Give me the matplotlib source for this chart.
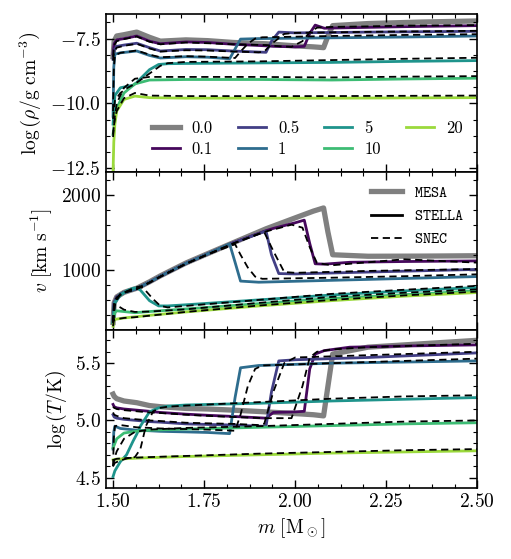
import numpy as np
import matplotlib
matplotlib.use('Agg')
import matplotlib.pyplot as plt
from matplotlib.lines import Line2D
from matplotlib.ticker import MultipleLocator

plt.rcParams.update({
    'font.family': 'serif',
    'font.serif': ['cmr10'],
    'mathtext.fontset': 'cm',
    'axes.formatter.use_mathtext': True,
    'axes.linewidth': 1.2,
    'font.size': 14,
})

labels = ['0.1', '0.5', '1', '5', '10', '20']

# MESA profile (t = 0.0)
x_mesa = [1.500, 1.503, 1.51, 1.53, 1.565, 1.6, 1.63, 1.70, 1.76, 1.83, 1.92, 2.00, 2.05, 2.078, 2.09, 2.103, 2.2, 2.35, 2.5]
rho_mesa = [-8.2, -7.6, -7.4, -7.35, -7.25, -7.45, -7.6, -7.55, -7.58, -7.65, -7.7, -7.78, -7.82, -7.85, -7.4, -7.0, -6.92, -6.86, -6.82]
v_mesa = [300, 560, 640, 700, 755, 840, 920, 1090, 1215, 1360, 1545, 1690, 1780, 1822, 1500, 1200, 1180, 1182, 1187]
T_mesa = [5.23, 5.21, 5.19, 5.17, 5.155, 5.13, 5.12, 5.105, 5.1, 5.09, 5.075, 5.06, 5.05, 5.04, 5.3, 5.58, 5.64, 5.67, 5.70]

# STELLA
x_s01 = [1.500, 1.503, 1.51, 1.53, 1.565, 1.6, 1.63, 1.70, 1.76, 1.83, 1.92, 1.94, 2.00, 2.025, 2.04, 2.055, 2.08, 2.15, 2.3, 2.5]
rho_s01 = [-8.1, -7.7, -7.55, -7.5, -7.4, -7.6, -7.7, -7.63, -7.65, -7.72, -7.78, -7.8, -7.82, -7.8, -7.3, -6.98, -7.1, -7.08, -7.04, -7.0]
v_s01 = [300, 560, 640, 700, 750, 835, 915, 1085, 1212, 1360, 1520, 1550, 1625, 1660, 1350, 1080, 1075, 1100, 1110, 1118]
T_s01 = [5.14, 5.12, 5.11, 5.10, 5.09, 5.08, 5.07, 5.055, 5.045, 5.035, 5.02, 5.07, 5.075, 5.08, 5.45, 5.58, 5.61, 5.64, 5.65, 5.66]

x_s05 = [1.500, 1.503, 1.51, 1.53, 1.565, 1.6, 1.63, 1.70, 1.76, 1.83, 1.90, 1.92, 1.935, 1.955, 2.0, 2.2, 2.5]
rho_s05 = [-8.3, -7.95, -7.8, -7.75, -7.68, -7.85, -7.98, -7.92, -7.93, -7.98, -8.02, -8.03, -7.6, -7.25, -7.28, -7.25, -7.22]
v_s05 = [300, 560, 640, 700, 750, 835, 915, 1085, 1212, 1360, 1480, 1515, 1200, 950, 945, 970, 1005]
T_s05 = [5.05, 5.03, 5.02, 5.01, 5.0, 4.99, 4.985, 4.97, 4.965, 4.96, 4.95, 4.95, 5.25, 5.52, 5.53, 5.55, 5.59]

x_s1 = [1.500, 1.502, 1.505, 1.52, 1.565, 1.6, 1.63, 1.70, 1.76, 1.82, 1.835, 1.85, 1.9, 2.1, 2.3, 2.5]
rho_s1 = [-10.5, -8.6, -8.1, -8.05, -7.98, -8.15, -8.25, -8.2, -8.22, -8.28, -7.9, -7.52, -7.5, -7.47, -7.44, -7.4]
v_s1 = [300, 500, 580, 680, 750, 835, 915, 1085, 1212, 1345, 1100, 850, 835, 860, 885, 910]
T_s1 = [4.75, 4.9, 4.95, 4.93, 4.915, 4.91, 4.905, 4.9, 4.895, 4.885, 5.2, 5.46, 5.48, 5.5, 5.51, 5.52]

x_s5 = [1.500, 1.505, 1.52, 1.537, 1.555, 1.565, 1.575, 1.60, 1.625, 1.65, 1.7, 1.9, 2.1, 2.3, 2.5]
rho_s5 = [-10.8, -9.7, -9.4, -9.35, -9.3, -9.2, -9.05, -8.7, -8.5, -8.47, -8.46, -8.44, -8.42, -8.38, -8.35]
v_s5 = [300, 560, 660, 720, 755, 760, 730, 590, 520, 520, 535, 600, 665, 720, 765]
T_s5 = [4.51, 4.56, 4.64, 4.70, 4.82, 4.88, 4.95, 5.075, 5.11, 5.125, 5.135, 5.15, 5.17, 5.185, 5.2]

x_s10 = [1.500, 1.505, 1.51, 1.53, 1.56, 1.6, 1.7, 1.9, 2.1, 2.3, 2.5]
rho_s10 = [-11.2, -10.6, -10.2, -9.6, -9.25, -9.1, -9.08, -9.08, -9.1, -9.06, -9.03]
v_s10 = [300, 430, 455, 445, 430, 445, 480, 550, 620, 670, 720]
T_s10 = [4.76, 4.80, 4.84, 4.89, 4.905, 4.915, 4.925, 4.94, 4.955, 4.97, 4.98]

x_s20 = [1.500, 1.502, 1.505, 1.51, 1.53, 1.56, 1.6, 1.7, 1.9, 2.1, 2.3, 2.5]
rho_s20 = [-12.65, -11.5, -10.8, -10.3, -9.85, -9.72, -9.78, -9.8, -9.8, -9.8, -9.79, -9.78]
v_s20 = [250, 320, 340, 345, 360, 375, 395, 440, 520, 590, 650, 698]
T_s20 = [4.656, 4.658, 4.66, 4.662, 4.665, 4.67, 4.675, 4.685, 4.70, 4.715, 4.725, 4.735]

# SNEC
x_n01 = [1.500, 1.503, 1.51, 1.53, 1.565, 1.6, 1.63, 1.70, 1.76, 1.83, 1.92, 1.96, 1.99, 2.02, 2.04, 2.06, 2.1, 2.2, 2.3, 2.5]
rho_n01 = [-8.2, -7.75, -7.6, -7.52, -7.42, -7.62, -7.72, -7.65, -7.68, -7.72, -7.75, -7.8, -7.82, -7.6, -7.25, -7.08, -7.05, -7.03, -7.0, -6.98]
v_n01 = [300, 550, 630, 700, 745, 830, 910, 1080, 1205, 1350, 1510, 1560, 1600, 1560, 1300, 1090, 1060, 1100, 1140, 1095]
T_n01 = [5.12, 5.11, 5.10, 5.09, 5.08, 5.07, 5.065, 5.05, 5.04, 5.03, 5.02, 5.02, 5.02, 5.3, 5.55, 5.6, 5.62, 5.64, 5.65, 5.67]

x_n05 = [1.500, 1.503, 1.51, 1.53, 1.565, 1.6, 1.63, 1.70, 1.76, 1.83, 1.90, 1.915, 1.94, 1.97, 2.0, 2.2, 2.5]
rho_n05 = [-8.35, -8.0, -7.85, -7.78, -7.7, -7.88, -8.0, -7.95, -7.96, -8.0, -8.03, -8.0, -7.65, -7.32, -7.28, -7.24, -7.2]
v_n05 = [300, 550, 630, 700, 745, 830, 910, 1080, 1205, 1350, 1480, 1500, 1250, 970, 960, 985, 1010]
T_n05 = [5.07, 5.05, 5.04, 5.02, 5.01, 5.0, 4.995, 4.98, 4.975, 4.97, 4.96, 4.97, 5.25, 5.5, 5.55, 5.57, 5.6]

x_n1 = [1.500, 1.502, 1.505, 1.52, 1.565, 1.6, 1.63, 1.70, 1.76, 1.835, 1.85, 1.87, 1.89, 1.91, 2.1, 2.3, 2.5]
rho_n1 = [-10.3, -8.7, -8.15, -8.05, -7.96, -8.12, -8.22, -8.18, -8.2, -8.25, -8.0, -7.7, -7.5, -7.45, -7.4, -7.36, -7.33]
v_n1 = [300, 520, 580, 680, 745, 830, 910, 1080, 1205, 1340, 1200, 1030, 910, 880, 895, 915, 940]
T_n1 = [4.6, 4.85, 4.95, 4.96, 4.94, 4.935, 4.93, 4.925, 4.92, 4.91, 5.05, 5.3, 5.45, 5.48, 5.5, 5.52, 5.54]

x_n5 = [1.500, 1.505, 1.52, 1.54, 1.56, 1.575, 1.59, 1.61, 1.63, 1.65, 1.7, 1.9, 2.1, 2.3, 2.5]
rho_n5 = [-10.6, -9.9, -9.6, -9.4, -9.25, -9.1, -8.95, -8.75, -8.55, -8.45, -8.4, -8.38, -8.33, -8.28, -8.24]
v_n5 = [300, 560, 670, 720, 765, 780, 720, 610, 520, 500, 520, 600, 680, 735, 787]
T_n5 = [4.6, 4.63, 4.65, 4.67, 4.68, 4.75, 4.95, 5.08, 5.11, 5.12, 5.13, 5.16, 5.19, 5.21, 5.22]

x_n10 = [1.500, 1.505, 1.51, 1.53, 1.56, 1.6, 1.7, 1.9, 2.1, 2.3, 2.5]
rho_n10 = [-11.2, -10.5, -10.0, -9.4, -9.05, -8.98, -8.98, -8.98, -9.0, -8.97, -8.95]
v_n10 = [300, 540, 530, 470, 440, 445, 475, 560, 640, 695, 740]
T_n10 = [4.6, 4.68, 4.73, 4.84, 4.9, 4.92, 4.935, 4.95, 4.97, 4.99, 5.0]

x_n20 = [1.500, 1.502, 1.505, 1.51, 1.53, 1.56, 1.6, 1.7, 1.9, 2.1, 2.3, 2.5]
rho_n20 = [-11.3, -10.9, -10.6, -10.3, -9.8, -9.6, -9.7, -9.72, -9.72, -9.72, -9.71, -9.7]
v_n20 = [250, 320, 340, 345, 360, 370, 390, 440, 525, 600, 660, 710]
T_n20 = [4.65, 4.655, 4.66, 4.665, 4.67, 4.675, 4.68, 4.69, 4.71, 4.725, 4.74, 4.75]

stella_x = [x_s01, x_s05, x_s1, x_s5, x_s10, x_s20]
snec_x = [x_n01, x_n05, x_n1, x_n5, x_n10, x_n20]
panels = [
    (rho_mesa, [rho_s01, rho_s05, rho_s1, rho_s5, rho_s10, rho_s20],
     [rho_n01, rho_n05, rho_n1, rho_n5, rho_n10, rho_n20]),
    (v_mesa, [v_s01, v_s05, v_s1, v_s5, v_s10, v_s20],
     [v_n01, v_n05, v_n1, v_n5, v_n10, v_n20]),
    (T_mesa, [T_s01, T_s05, T_s1, T_s5, T_s10, T_s20],
     [T_n01, T_n05, T_n1, T_n5, T_n10, T_n20]),
]

colors = plt.cm.viridis(np.linspace(0.02, 0.85, 6))

fig, axes = plt.subplots(3, 1, figsize=(5.11, 5.59), dpi=100, sharex=True)
fig.subplots_adjust(left=0.207, right=0.934, bottom=0.127, top=0.975, hspace=0)

for ax, (mesa_y, stella_ys, snec_ys) in zip(axes, panels):
    ax.plot(x_mesa, mesa_y, color='gray', lw=3.8, label='0.0', zorder=1)
    for i in range(6):
        ax.plot(stella_x[i], stella_ys[i], color=colors[i], lw=2.0, label=labels[i], zorder=2)
        ax.plot(snec_x[i], snec_ys[i], color='k', ls='--', lw=1.3, dashes=(4, 2.5), zorder=3)
    ax.tick_params(which='both', direction='in', top=True, right=True, labelsize=14)
    ax.tick_params(which='major', length=6, width=1.0)
    ax.tick_params(which='minor', length=3, width=0.8)

axes[0].yaxis.set_major_locator(MultipleLocator(2.5))
axes[0].yaxis.set_minor_locator(MultipleLocator(0.625))
axes[1].yaxis.set_major_locator(MultipleLocator(1000))
axes[1].yaxis.set_minor_locator(MultipleLocator(200))
axes[2].yaxis.set_major_locator(MultipleLocator(0.5))
axes[2].yaxis.set_minor_locator(MultipleLocator(0.1))
axes[2].xaxis.set_major_locator(MultipleLocator(0.25))
axes[2].xaxis.set_minor_locator(MultipleLocator(0.0625))

axes[0].set_ylim(-12.65, -6.55)
axes[1].set_ylim(200, 2300)
axes[2].set_ylim(4.41, 5.79)
axes[2].set_xlim(1.48, 2.5)
axes[0].yaxis.set_major_formatter(plt.FuncFormatter(lambda v, p: r'$%.1f$' % v))
axes[2].xaxis.set_major_formatter(plt.FuncFormatter(lambda v, p: r'$%.2f$' % v))

axes[0].set_ylabel(r'$\log\left(\rho/{\rm g\ cm^{-3}}\right)$', fontsize=14)
axes[1].set_ylabel(r'$v\ [{\rm km\ s^{-1}}]$', fontsize=14)
axes[2].set_ylabel(r'$\log\left(T/{\rm K}\right)$', fontsize=14)
axes[2].set_xlabel(r'$m\ [{\rm M_\odot}]$', fontsize=14)

axes[0].legend(ncol=4, loc='lower right', frameon=False, fontsize=12,
               handlelength=1.7, handletextpad=0.7, columnspacing=1.5,
               labelspacing=0.35)

handles = [Line2D([], [], color='gray', lw=3.8),
           Line2D([], [], color='k', lw=2.0),
           Line2D([], [], color='k', ls='--', lw=1.3, dashes=(4, 2.5))]
axes[1].legend(handles, [r'$\mathtt{MESA}$', r'$\mathtt{STELLA}$', r'$\mathtt{SNEC}$'],
               loc='upper right', frameon=False, fontsize=11, handlelength=2.0,
               labelspacing=0.6)

fig.savefig('out.png', dpi=100)
